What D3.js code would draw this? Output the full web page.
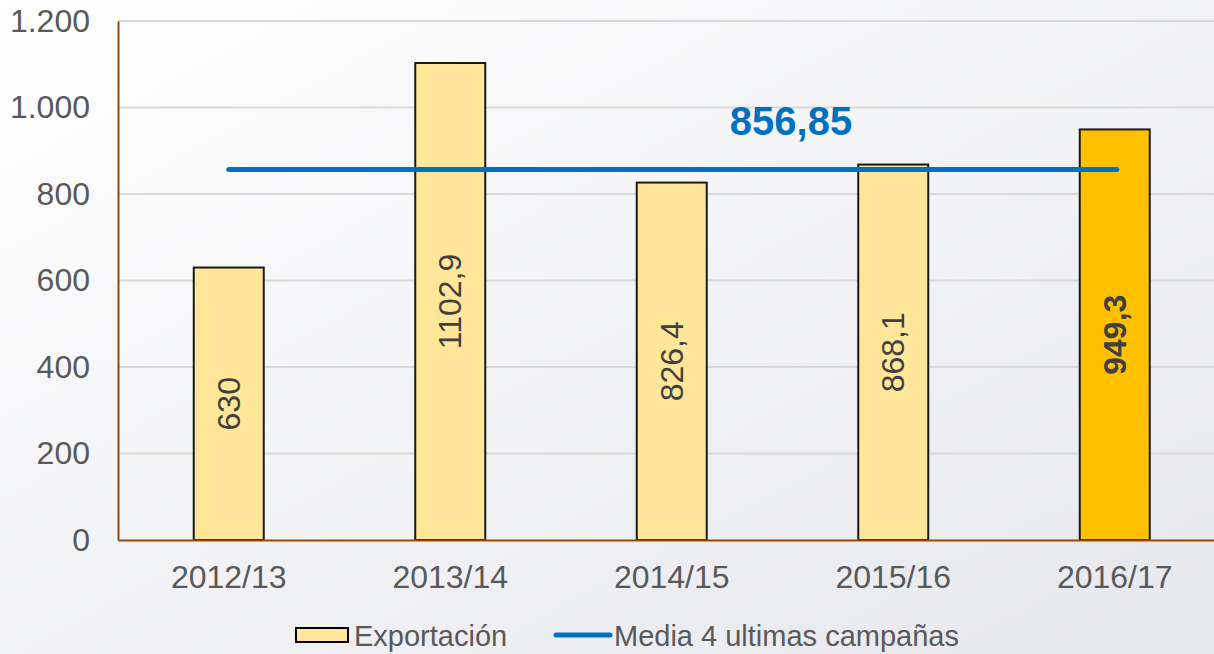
<!DOCTYPE html>
<html>
<head>
<meta charset="utf-8">
<script src="https://cdn.jsdelivr.net/npm/d3@7"></script>
<style>
  html, body { margin: 0; padding: 0; }
  svg { display: block; font-family: "Liberation Sans", Arial, sans-serif; }
</style>
</head>
<body>
<svg id="chart"></svg>
<script>
// campaigns and export values
const campaigns = ['2012/13', '2013/14', '2014/15', '2015/16', '2016/17'];
const exportacion = [630, 1102.9, 826.4, 868.1, 949.3];
const media = 856.85;
const yTicks = [0, 200, 400, 600, 800, 1000, 1200];
const legendLabels = ['Exportación', 'Media 4 ultimas campañas'];

const W = 1214, H = 654;
const margin = {top: 21, right: -11.5, bottom: 114, left: 118};
const width = W - margin.left - margin.right;
const height = H - margin.top - margin.bottom;

const es = d3.formatLocale({decimal: ',', thousands: '.', grouping: [3], currency: ['', '€']});
const fmtTick = es.format(',');
const fmtVal = es.format('');   // no thousands separator on the values

const svg = d3.select('#chart').attr('width', W).attr('height', H);

// background gradient
const defs = svg.append('defs');
const grad = defs.append('linearGradient').attr('id', 'bg')
  .attr('x1', '0%').attr('y1', '0%').attr('x2', '100%').attr('y2', '100%');
grad.append('stop').attr('offset', '0%').attr('stop-color', '#ffffff');
grad.append('stop').attr('offset', '100%').attr('stop-color', '#e6e7ec');
svg.append('rect').attr('width', W).attr('height', H).attr('fill', 'url(#bg)');

const chart = svg.append('g').attr('transform', `translate(${margin.left},${margin.top})`);

const x = d3.scaleBand().domain(campaigns).range([0, width]).padding(0);
const y = d3.scaleLinear().domain([0, 1200]).range([height, 0]);
const barW = 70;

// grid lines
chart.append('g').selectAll('line')
  .data(yTicks.filter(d => d > 0))
  .join('line')
    .attr('x1', 0).attr('x2', width)
    .attr('y1', d => y(d)).attr('y2', d => y(d))
    .attr('stroke', '#d9d9d9').attr('stroke-width', 2);

// y axis
const yAxis = d3.axisLeft(y).tickValues(yTicks).tickFormat(fmtTick).tickSize(0).tickPadding(28);
const yg = chart.append('g').call(yAxis);
yg.select('.domain').attr('stroke', '#974706').attr('stroke-width', 2);
yg.selectAll('text').attr('font-size', 32).attr('fill', '#595959').attr('font-family', '"Liberation Sans", Arial, sans-serif');

// bars
chart.append('g').selectAll('rect')
  .data(campaigns)
  .join('rect')
    .attr('x', (d) => x(d) + x.bandwidth() / 2 - barW / 2)
    .attr('y', (d, i) => y(exportacion[i]))
    .attr('width', barW)
    .attr('height', (d, i) => height - y(exportacion[i]))
    .attr('fill', (d, i) => i === campaigns.length - 1 ? '#ffc000' : '#ffe699')
    .attr('stroke', '#1a1a1a').attr('stroke-width', 2);

// x axis
const xAxis = d3.axisBottom(x).tickSize(0).tickPadding(25).tickSizeOuter(0);
const xg = chart.append('g').attr('transform', `translate(0,${height})`).call(xAxis);
xg.select('.domain').attr('stroke', '#974706').attr('stroke-width', 2);
xg.selectAll('text').attr('font-size', 32).attr('fill', '#595959').attr('font-family', '"Liberation Sans", Arial, sans-serif');

// bar value labels
chart.append('g').selectAll('text')
  .data(campaigns)
  .join('text')
    .attr('transform', (d, i) => {
      const cx = x(d) + x.bandwidth() / 2;
      const cy = (y(exportacion[i]) + height) / 2;
      return `translate(${cx},${cy}) rotate(-90)`;
    })
    .attr('text-anchor', 'middle')
    .attr('dy', '0.35em')
    .attr('font-size', 32)
    .attr('font-weight', (d, i) => i === campaigns.length - 1 ? 'bold' : 'normal')
    .attr('fill', '#404040')
    .text((d, i) => fmtVal(exportacion[i]));

// average line
const xFirst = x(campaigns[0]) + x.bandwidth() / 2;
const xLast = x(campaigns[campaigns.length - 1]) + x.bandwidth() / 2 + 2;
chart.append('line')
  .attr('x1', xFirst).attr('x2', xLast)
  .attr('y1', y(media)).attr('y2', y(media))
  .attr('stroke', '#0070c0').attr('stroke-width', 5).attr('stroke-linecap', 'round');

chart.append('text')
  .attr('x', 673).attr('y', y(media) - 34)
  .attr('text-anchor', 'middle')
  .attr('font-size', 40).attr('font-weight', 'bold')
  .attr('fill', '#0070c0')
  .text(fmtVal(media));

// legend
const legend = svg.append('g');
legend.append('rect')
  .attr('x', 296).attr('y', 628).attr('width', 52).attr('height', 14)
  .attr('fill', '#ffe699').attr('stroke', '#000').attr('stroke-width', 2);
legend.append('text')
  .attr('x', 354).attr('y', 646)
  .attr('font-size', 29).attr('fill', '#595959')
  .text(legendLabels[0]);
legend.append('line')
  .attr('x1', 556).attr('x2', 610).attr('y1', 635).attr('y2', 635)
  .attr('stroke', '#0070c0').attr('stroke-width', 5).attr('stroke-linecap', 'round');
legend.append('text')
  .attr('x', 614).attr('y', 646)
  .attr('font-size', 29).attr('fill', '#595959')
  .text(legendLabels[1]);
</script>
</body>
</html>
